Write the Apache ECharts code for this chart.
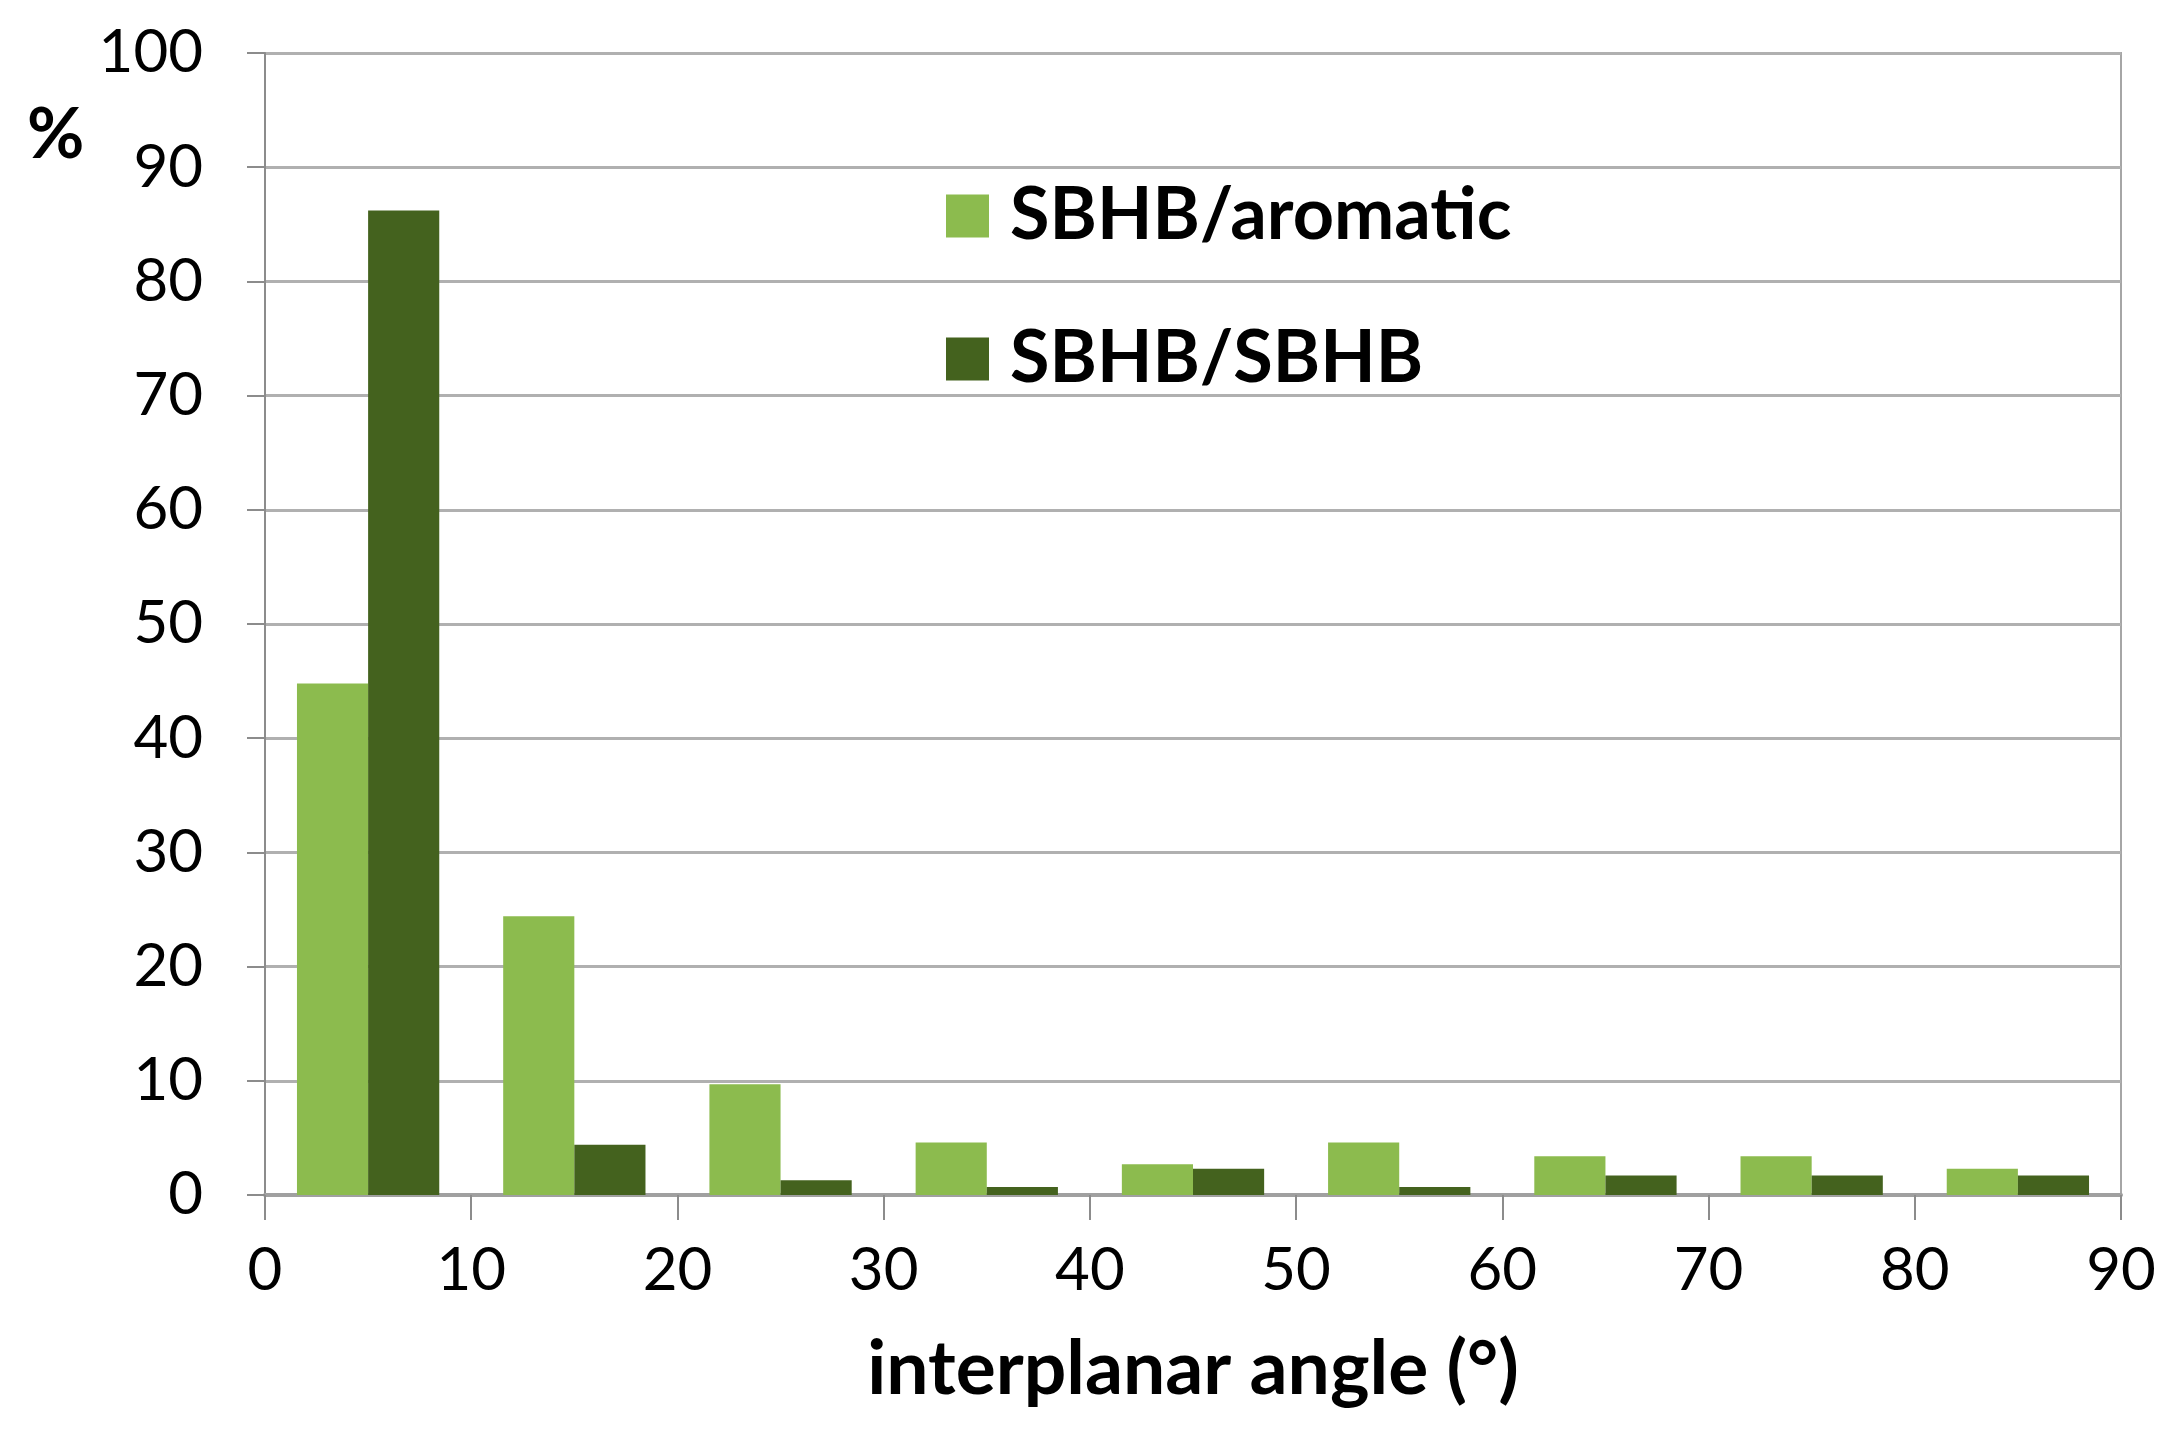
<!DOCTYPE html>
<html>
<head>
<meta charset="utf-8">
<script src="https://cdn.jsdelivr.net/npm/echarts@6/dist/echarts.min.js"></script>
<style>
html,body{margin:0;padding:0;background:#fff;}
#chart{width:2173px;height:1455px;}
</style>
</head>
<body>
<div id="chart"></div>
<script>
// Data
var binLabels = ['0-10','10-20','20-30','30-40','40-50','50-60','60-70','70-80','80-90'];
var seriesNames = ['SBHB/aromatic','SBHB/SBHB'];
var aromaticValues = [44.8, 24.4, 9.7, 4.6, 2.7, 4.6, 3.4, 3.4, 2.3];
var sbhbValues = [86.2, 4.4, 1.3, 0.7, 2.3, 0.7, 1.7, 1.7, 1.7];
var xTickValues = [0, 10, 20, 30, 40, 50, 60, 70, 80, 90];
var yTickValues = [0, 10, 20, 30, 40, 50, 60, 70, 80, 90, 100];
var xAxisTitle = 'interplanar angle (°)';
var yAxisTitle = '%';

var FONT = 'Lato';
var chart = echarts.init(document.getElementById('chart'), null, {renderer: 'canvas'});
chart.setOption({
  backgroundColor: '#ffffff',
  animation: false,
  title: {
    text: yAxisTitle,
    left: 22,
    top: 95,
    textStyle: {fontFamily: FONT, fontWeight: 'bold', fontSize: 70, color: '#000'}
  },
  legend: {
    orient: 'vertical',
    left: 941,
    top: 175,
    itemWidth: 43,
    itemHeight: 43,
    itemGap: 71,
    icon: 'rect',
    data: seriesNames,
    textStyle: {fontFamily: FONT, fontWeight: 'bold', fontSize: 72, color: '#000', padding: [0, 0, 0, 16]}
  },
  grid: {
    left: 265, right: 52, top: 53, bottom: 260,
    show: true, borderColor: '#a6a6a6', borderWidth: 2, backgroundColor: 'transparent'
  },
  xAxis: [
    {
      type: 'category',
      data: binLabels,
      boundaryGap: true,
      show: false
    },
    {
      type: 'value',
      min: 0, max: 90, interval: 10,
      position: 'bottom',
      name: xAxisTitle,
      nameLocation: 'middle',
      nameGap: 137,
      nameTextStyle: {fontFamily: FONT, fontWeight: 'bold', fontSize: 75, color: '#000'},
      axisLine: {show: true, lineStyle: {color: '#a0a0a0', width: 4}},
      axisTick: {show: true, length: 25, lineStyle: {color: '#8c8c8c', width: 2}},
      splitLine: {show: false},
      axisLabel: {
        fontFamily: FONT, fontSize: 60, color: '#000', margin: 46,
        formatter: function (v) { return xTickValues.indexOf(v) >= 0 ? String(v) : ''; }
      }
    }
  ],
  yAxis: {
    type: 'value',
    min: 0, max: 100, interval: 10,
    axisLine: {show: true, lineStyle: {color: '#8c8c8c', width: 2}},
    axisTick: {show: true, length: 18, lineStyle: {color: '#8c8c8c', width: 2}},
    splitLine: {show: true, lineStyle: {color: '#b0b0b0', width: 3}},
    axisLabel: {
      fontFamily: FONT, fontSize: 60, color: '#000', margin: 62,
      formatter: function (v) { return yTickValues.indexOf(v) >= 0 ? String(v) : ''; }
    }
  },
  series: [
    {
      name: seriesNames[0], type: 'bar', xAxisIndex: 0,
      data: aromaticValues,
      barGap: '0%', barCategoryGap: '31%',
      itemStyle: {color: '#8cbb4e'}
    },
    {
      name: seriesNames[1], type: 'bar', xAxisIndex: 0,
      data: sbhbValues,
      barGap: '0%', barCategoryGap: '31%',
      itemStyle: {color: '#44621e'}
    }
  ]
});
</script>
</body>
</html>
